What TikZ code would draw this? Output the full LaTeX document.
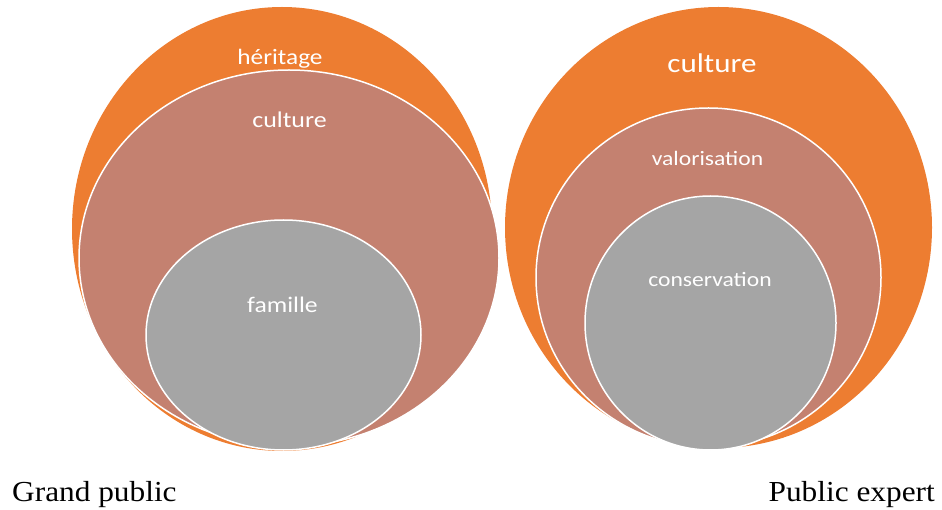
\documentclass[tikz,border=0pt]{standalone}
\usepackage{fontspec}
\setmainfont{Liberation Serif}
\newfontfamily\calib{Carlito}
\usetikzlibrary{shapes.geometric}
\definecolor{orng}{HTML}{ED7D31}
\definecolor{brwn}{HTML}{C48170}
\definecolor{gry}{HTML}{A5A5A5}
\begin{document}
\begin{tikzpicture}[x=1pt,y=-1pt,
  blob/.style={ellipse,draw=white,line width=1.5pt,inner sep=0pt},
  lab/.style={text=white,anchor=base,inner sep=0pt,xscale=1.15},
  captext/.style={inner sep=0pt,font=\fontsize{29}{29}\selectfont,xscale=1.08}]
\useasboundingbox (0,0) rectangle (942,510);
% left
\node[blob,fill=orng,draw=none,minimum width=420pt,minimum height=444pt] (lo) at (282,229) {};
\node[blob,fill=brwn,minimum width=420pt,minimum height=376pt] (lc) at (289,258) {};
\node[blob,fill=gry,minimum width=275pt,minimum height=230pt] (lf) at (283.5,335) {};
\node[lab,font=\calib\fontsize{22}{22}\selectfont] (th) at (280,65) {héritage};
\node[lab,font=\calib\fontsize{22.5}{22.5}\selectfont] (tc) at (289.5,128) {culture};
\node[lab,font=\calib\fontsize{22.3}{22.3}\selectfont] (tf) at (282.5,313) {famille};
% right
\node[blob,fill=orng,draw=none,minimum width=427pt,minimum height=441pt] (ro) at (718.5,227.5) {};
\node[blob,fill=brwn,minimum width=345pt,minimum height=339pt] (rv) at (708.5,277.5) {};
\node[blob,fill=gry,minimum width=251pt,minimum height=254pt] (rc) at (710.5,323) {};
\node[lab,font=\calib\fontsize{27}{27}\selectfont] (tcu) at (712,73) {culture};
\node[lab,font=\calib\fontsize{20.5}{20.5}\selectfont] (tv) at (707.5,166) {valorisation};
\node[lab,font=\calib\fontsize{20.5}{20.5}\selectfont] (tco) at (710,287) {conservation};
% captions
\node[captext,anchor=base west] (gp) at (12,501) {Grand public};
\node[captext,anchor=base east] (pe) at (935,501) {Public expert};
\end{tikzpicture}
\end{document}
